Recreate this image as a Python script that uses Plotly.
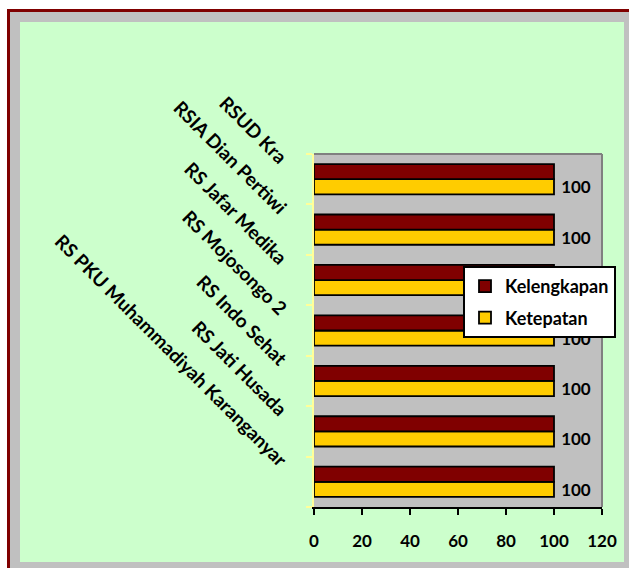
import plotly.graph_objects as go

categories = ["RS PKU Muhammadiyah Karanganyar", "RS Jati Husada", "RS Indo Sehat",
              "RS Mojosongo 2", "RS Jafar Medika", "RSIA Dian Pertiwi", "RSUD Kra"]
kelengkapan = [100, 100, 100, 100, 100, 100, 100]
ketepatan = [100, 100, 100, 100, 100, 100, 100]
x_ticks = [0, 20, 40, 60, 80, 100, 120]

W, H = 629, 568
L, R, T, B = 314, 602, 154, 507
FONT = "Lato"

def px(xp):
    return (xp - L) / (R - L)

def py(yp):
    return (B - yp) / (B - T)

fig = go.Figure()
fig.add_trace(go.Bar(
    y=categories, x=ketepatan, orientation="h", name="Ketepatan",
    marker=dict(color="#FFCC00", line=dict(color="black", width=1.8)),
    text=ketepatan, texttemplate="\u00a0%{text}", textposition="outside",
    constraintext="none",
    textfont=dict(family=FONT, size=17, color="black", weight="bold"),
    legendrank=2, legendgroup="b", cliponaxis=False,
))
fig.add_trace(go.Bar(
    y=categories, x=kelengkapan, orientation="h", name="Kelengkapan",
    marker=dict(color="#800000", line=dict(color="black", width=1.8)),
    legendrank=1, legendgroup="a",
))

shapes = []
def rect(x0, y0, x1, y1, color):
    shapes.append(dict(type="rect", xref="paper", yref="paper",
                       x0=px(x0), x1=px(x1), y0=py(y0), y1=py(y1),
                       fillcolor=color, line=dict(width=0), layer="below"))

# outer frame
rect(0, 0, W, 9, "white")
rect(0, 0, 7, H, "white")
rect(7, 9, W, 12, "#800000")
rect(7, 9, 10, H, "#800000")
rect(10, 12, W, 22, "#C0C0C0")
rect(10, 12, 20, H, "#C0C0C0")
rect(624, 12, W, H, "#C0C0C0")
rect(10, 562, W, H, "#C0C0C0")
# plot area top/right border
shapes.append(dict(type="line", xref="paper", yref="paper", x0=0, x1=1, y0=1, y1=1,
                   line=dict(color="#808080", width=2)))
shapes.append(dict(type="line", xref="paper", yref="paper", x0=1, x1=1, y0=0, y1=1,
                   line=dict(color="#808080", width=2)))

fig.update_layout(
    width=W, height=H,
    margin=dict(l=L, r=W - R, t=T, b=H - B, autoexpand=False),
    paper_bgcolor="#CCFFCC",
    plot_bgcolor="#C0C0C0",
    barmode="group", bargap=0.4, bargroupgap=0,
    font=dict(family=FONT, size=16, color="black", weight="bold"),
    shapes=shapes,
    showlegend=True,
    legend=dict(
        x=px(463), y=py(266), xanchor="left", yanchor="top",
        bgcolor="white", bordercolor="black", borderwidth=2,
        traceorder="grouped", tracegroupgap=5,
        font=dict(family=FONT, size=18, color="black", weight="bold"),
    ),
    xaxis=dict(
        range=[0, 120], tickvals=x_ticks, ticktext=[str(v) for v in x_ticks],
        showgrid=False, zeroline=False,
        showline=True, linecolor="black", linewidth=2,
        ticks="outside", ticklen=6, tickcolor="black", tickwidth=2,
        ticklabelstandoff=12,
        tickfont=dict(family=FONT, size=17, color="black", weight="bold"),
    ),
    yaxis=dict(
        type="category", categoryorder="array", categoryarray=categories,
        showgrid=False, zeroline=False,
        showline=True, linecolor="#FFFF99", linewidth=2,
        ticks="outside", ticklen=6, tickcolor="#FFFF99", tickwidth=2,
        tickson="boundaries", tickangle=45, automargin=False,
        ticklabelstandoff=23, ticklabelshift=-18,
        tickfont=dict(family=FONT, size=19, color="black", weight="bold"),
    ),
)

fig.write_html("out.html", config={"displayModeBar": False},
               post_script="document.body.style.margin='0';")
